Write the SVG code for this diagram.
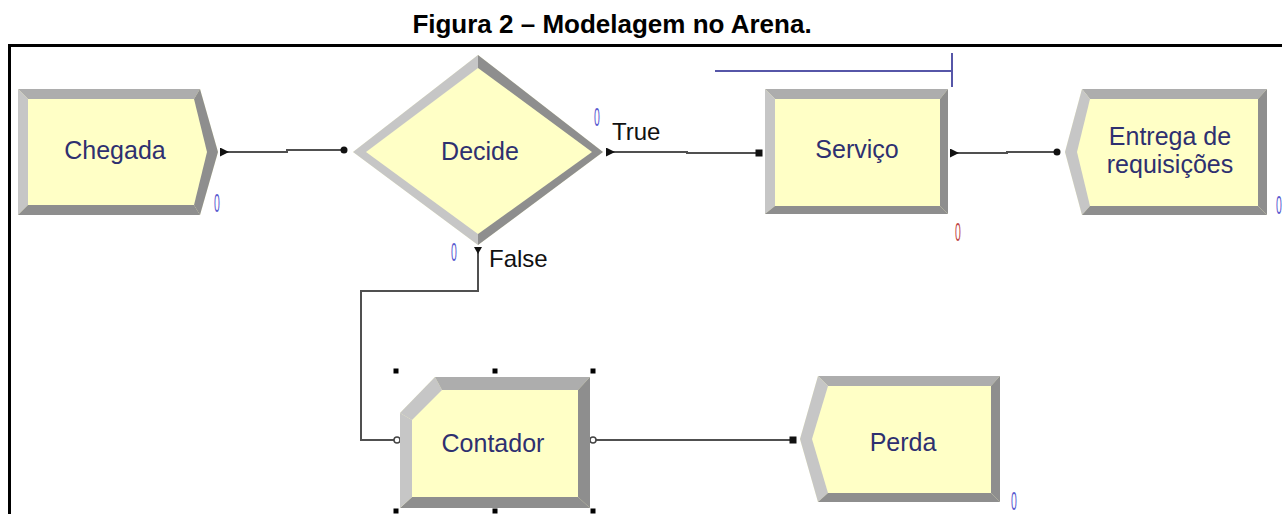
<svg xmlns="http://www.w3.org/2000/svg" width="1282" height="514" viewBox="0 0 1282 514">
<style>
.title{font-family:"Liberation Sans",Arial,sans-serif;font-size:26px;font-weight:bold;fill:#000}
.lbl{font-family:"Liberation Sans",Arial,sans-serif;font-size:25px;fill:#2e3070;text-anchor:middle}
.branch{font-family:"Liberation Sans",Arial,sans-serif;font-size:24px;fill:#111}
.cnt{font-family:"Liberation Sans",Arial,sans-serif;font-size:25px;fill:#5a5ad0;text-anchor:middle}
.cntr{font-family:"Liberation Sans",Arial,sans-serif;font-size:25px;fill:#c04848;text-anchor:middle}
.fill{fill:#ffffc6}
.lt{fill:#c6c6c6}
.md{fill:#adadad}
.dk{fill:#8e8e8e}
.conn{fill:none;stroke:#505050;stroke-width:2}
.handle{fill:#000}
.port{fill:#fff;stroke:#444;stroke-width:1.5}
</style>
<defs>
<marker id="arr" markerUnits="userSpaceOnUse" markerWidth="9" markerHeight="9" viewBox="0 0 8 8" refX="0" refY="4" orient="auto"><path d="M0,0 L8,4 L0,8 z" fill="#111"/></marker>
<marker id="dot" markerUnits="userSpaceOnUse" markerWidth="8" markerHeight="8" viewBox="0 0 8 8" refX="4" refY="4" orient="auto"><circle cx="4" cy="4" r="3.5" fill="#111"/></marker>
<marker id="sq" markerUnits="userSpaceOnUse" markerWidth="8" markerHeight="8" viewBox="0 0 8 8" refX="4" refY="4" orient="auto"><rect x="0.5" y="0.5" width="7" height="7" fill="#111"/></marker>
</defs>
<rect width="1282" height="514" fill="#fff"/>
<text class="title" x="612" y="33" text-anchor="middle">Figura 2 – Modelagem no Arena.</text>
<path d="M9.5,514 V45.5 H1282" fill="none" stroke="#000" stroke-width="3"/>

<g id="connectors">
<path class="conn" d="M220,152 H287 V150 H344" marker-start="url(#arr)" marker-end="url(#dot)"/>
<path class="conn" d="M606,152 H687 V153 H759" marker-start="url(#arr)" marker-end="url(#sq)"/>
<path class="conn" d="M950,153 H1007 V152 H1057" marker-start="url(#arr)" marker-end="url(#dot)"/>
<path class="conn" d="M478,247 V291 H361 V440 H394"/>
<path d="M474,247 L482,247 L478,254 z" fill="#111"/>
<path class="conn" d="M596,440 H793" marker-end="url(#sq)"/>
<circle class="port" cx="397" cy="440" r="3"/>
<circle class="port" cx="593" cy="440" r="3"/>
</g>

<g id="chegada">
<polygon class="fill" points="18,89 200,89 218,152 200,215 18,215"/>
<polygon class="md" points="18,89 200,89 194,99 28,99"/>
<polygon class="lt" points="18,89 28,99 28,205 18,215"/>
<polygon class="dk" points="200,89 218,152 207,152 194,99"/>
<polygon class="dk" points="218,152 200,215 194,205 207,152"/>
<polygon class="dk" points="18,215 200,215 194,205 28,205"/>
<text class="lbl" x="115" y="159">Chegada</text>
<text class="cnt" transform="translate(217,212) scale(0.42,1)">0</text>
</g>

<g id="decide">
<polygon class="fill" points="353,152 478,55 603,152 478,245"/>
<polygon class="lt" points="353,152 478,55 478,68 366,152"/>
<polygon class="dk" points="478,55 603,152 592,152 478,68"/>
<polygon class="dk" points="603,152 478,245 478,234 592,152"/>
<polygon class="lt" points="478,245 353,152 366,152 478,234"/>
<text class="lbl" x="480" y="160">Decide</text>
<text class="branch" x="612" y="140">True</text>
<text class="branch" x="489" y="267">False</text>
<text class="cnt" transform="translate(597,126) scale(0.42,1)">0</text>
<text class="cnt" transform="translate(454,261) scale(0.42,1)">0</text>
</g>

<g id="servico">
<rect class="fill" x="765" y="89" width="183" height="125"/>
<polygon class="md" points="765,89 948,89 940,99 775,99"/>
<polygon class="lt" points="765,89 775,99 775,206 765,214"/>
<polygon class="dk" points="948,89 948,214 940,206 940,99"/>
<polygon class="dk" points="765,214 948,214 940,206 775,206"/>
<text class="lbl" x="857" y="158">Serviço</text>
<path d="M715,71 H952 M952,53 V87" fill="none" stroke="#5656a8" stroke-width="2"/>
<text class="cntr" transform="translate(958,241) scale(0.42,1)">0</text>
</g>

<g id="entrega">
<polygon class="fill" points="1065,152 1082,89 1267,89 1267,215 1082,215"/>
<polygon class="md" points="1082,89 1267,89 1258,99 1090,99"/>
<polygon class="lt" points="1065,152 1082,89 1090,99 1077,152"/>
<polygon class="lt" points="1065,152 1082,215 1090,206 1077,152"/>
<polygon class="dk" points="1267,89 1267,215 1258,206 1258,99"/>
<polygon class="dk" points="1082,215 1267,215 1258,206 1090,206"/>
<text class="lbl" x="1170" y="145">Entrega de</text>
<text class="lbl" x="1170" y="173">requisições</text>
<text class="cnt" transform="translate(1279,214) scale(0.42,1)">0</text>
</g>

<g id="contador">
<polygon class="fill" points="400,413 435,377 590,377 590,508 400,508"/>
<polygon class="lt" points="400,413 435,377 442,390 412,420"/>
<polygon class="md" points="435,377 590,377 578,390 442,390"/>
<polygon class="dk" points="590,377 590,508 578,497 578,390"/>
<polygon class="dk" points="400,508 590,508 578,497 412,497"/>
<polygon class="lt" points="400,413 412,420 412,497 400,508"/>
<text class="lbl" x="493" y="452">Contador</text>
<rect class="handle" x="393.5" y="368.5" width="5" height="5"/>
<rect class="handle" x="492.5" y="368.5" width="5" height="5"/>
<rect class="handle" x="590.5" y="368.5" width="5" height="5"/>
<rect class="handle" x="393.5" y="508.5" width="5" height="5"/>
<rect class="handle" x="492.5" y="508.5" width="5" height="5"/>
<rect class="handle" x="590.5" y="508.5" width="5" height="5"/>
</g>

<g id="perda">
<polygon class="fill" points="800,439 818,376 1000,376 1000,502 818,502"/>
<polygon class="md" points="818,376 1000,376 991,386 828,386"/>
<polygon class="lt" points="800,439 818,376 828,386 812,439"/>
<polygon class="lt" points="800,439 818,502 828,493 812,439"/>
<polygon class="dk" points="1000,376 1000,502 991,493 991,386"/>
<polygon class="dk" points="818,502 1000,502 991,493 828,493"/>
<text class="lbl" x="903" y="451">Perda</text>
<text class="cnt" transform="translate(1014,510) scale(0.42,1)">0</text>
</g>
</svg>
